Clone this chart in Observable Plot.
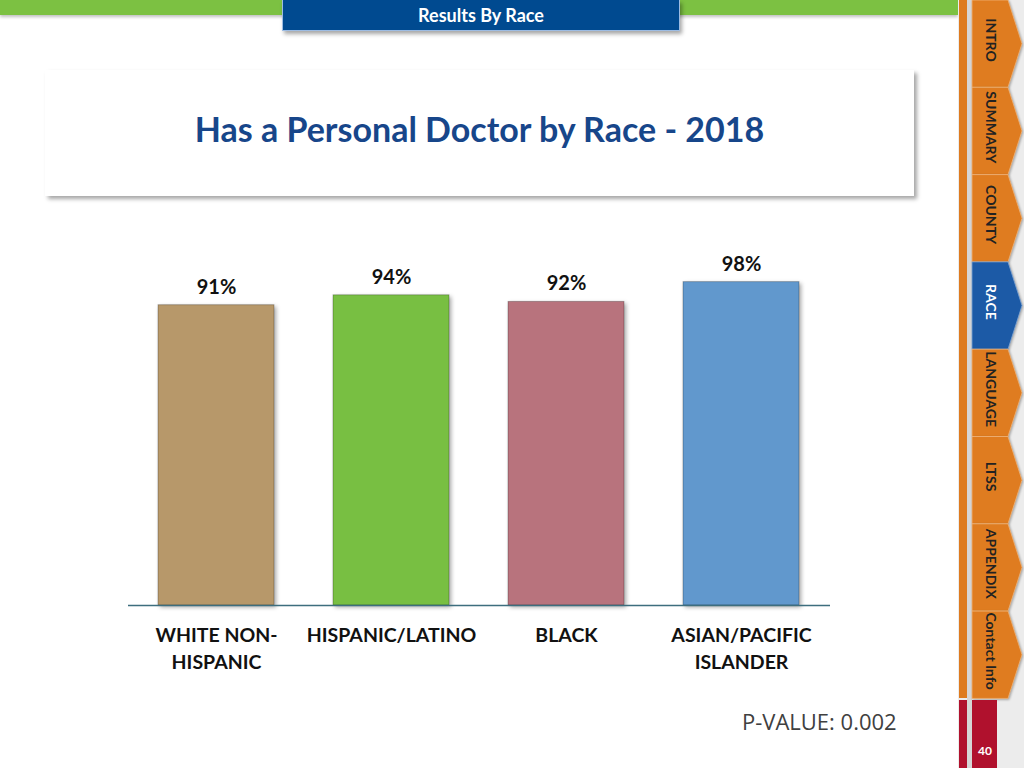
<!DOCTYPE html>
<html>
<head>
<meta charset="utf-8">
<script src="https://cdn.jsdelivr.net/npm/d3@7"></script>
<script src="https://cdn.jsdelivr.net/npm/@observablehq/plot@0.6"></script>
<style>
  html, body { margin: 0; padding: 0; background: #fff; width: 1024px; height: 768px; overflow: hidden; font-family: Lato, "Open Sans", sans-serif; }
  .abs { position: absolute; }
  #greenbar { left: 0; top: 0; width: 958px; height: 15px; background: #7CC142; box-shadow: 0 2px 3px rgba(0,0,0,0.25); }
  #bluetab { left: 282px; top: 0; width: 396px; height: 30px; background: #004A90; border: 1px solid #9DBCE3; border-top: none; box-shadow: 2px 3px 4px rgba(0,0,0,0.35); color: #fff; font-weight: bold; font-size: 18px; text-align: center; line-height: 31px; }
  #titlebox { left: 45px; top: 70px; width: 869px; height: 126px; background: #fff; box-shadow: 3px 3px 4px rgba(0,0,0,0.35); }
  #title { left: 45px; top: 108px; width: 869px; text-align: center; font-size: 34px; font-weight: bold; color: #17468A; }
  #chart { left: 128px; top: 240px; }
  #chart rect { filter: drop-shadow(2px 2px 2px rgba(0,0,0,0.35)); }
  #pval { left: 742px; top: 706px; font-size: 22px; color: #404040; font-family: "Open Sans", Lato, sans-serif; }
  #nav { left: 950px; top: 0; }
</style>
</head>
<body>
<div id="greenbar" class="abs"></div>
<div id="bluetab" class="abs">Results By Race</div>
<div id="titlebox" class="abs"></div>
<div id="title" class="abs">Has a Personal Doctor by Race - 2018</div>
<div id="chart" class="abs"></div>
<div id="pval" class="abs">P-VALUE: 0.002</div>
<svg id="nav" class="abs" width="74" height="768"></svg>
<script>
// ---- data ----
const categories = ["WHITE NON-\nHISPANIC", "HISPANIC/LATINO", "BLACK", "ASIAN/PACIFIC\nISLANDER"];
const values = [91, 94, 92, 98];
const valueLabels = ["91%", "94%", "92%", "98%"];
const barColors = ["#B7986A", "#78BF42", "#B8737D", "#6198CD"];
const navTabs = ["INTRO", "SUMMARY", "COUNTY", "RACE", "LANGUAGE", "LTSS", "APPENDIX", "Contact Info"];
const activeTab = "RACE";
const pageNumber = "40";

const data = categories.map((c, i) => ({cat: c, value: values[i], label: valueLabels[i]}));

const chart = Plot.plot({
  width: 702,
  height: 445,
  marginLeft: 0,
  marginRight: 0,
  marginTop: 35,
  marginBottom: 80,
  style: {fontFamily: "Lato, 'Open Sans', sans-serif", background: "transparent", overflow: "visible"},
  x: {domain: categories, paddingInner: 0.335, paddingOuter: 0.165, label: null},
  y: {domain: [0, 100], axis: null},
  color: {domain: categories, range: barColors},
  marks: [
    Plot.barY(data, {x: "cat", y: "value", fill: "cat", stroke: "#000", strokeOpacity: 0.25, strokeWidth: 1}),
    Plot.ruleY([0], {stroke: "#3D6E7E", strokeWidth: 1.5}),
    Plot.text(data, {x: "cat", y: "value", text: "label", dy: -18, fontSize: 20, fontWeight: "bold", fill: "#111"}),
    Plot.axisX({tickSize: 0, tickPadding: 17, fontSize: 19.5, fontWeight: "bold", lineHeight: 1.4, fill: "#111", label: null})
  ]
});
document.getElementById("chart").appendChild(chart);

// ---- side navigation ----
const nav = d3.select("#nav");
const ox = 950;
nav.append("rect").attr("x", 958 - ox).attr("y", 0).attr("width", 66).attr("height", 768).attr("fill", "#ECECEC");
nav.append("rect").attr("x", 959 - ox).attr("y", 0).attr("width", 8).attr("height", 698).attr("fill", "#DE7B1F");
nav.append("rect").attr("x", 959 - ox).attr("y", 700).attr("width", 8).attr("height", 68).attr("fill", "#B0112D");
nav.append("rect").attr("x", 967 - ox).attr("y", 0).attr("width", 5).attr("height", 768).attr("fill", "#D6D6D6");
const tabH = 87.3;
navTabs.forEach((t, i) => {
  const y0 = i * tabH, y1 = y0 + tabH;
  const active = t === activeTab;
  const pts = [[972, y0], [1008, y0], [1022, y0 + tabH * 0.5], [1008, y1], [972, y1]].map(p => [p[0] - ox, p[1]]);
  nav.append("polygon")
    .attr("points", pts.map(p => p.join(",")).join(" "))
    .attr("fill", active ? "#1C5AA6" : "#DF7C20")
    .attr("stroke", active ? "#7FA6D6" : "#F0B478")
    .attr("stroke-width", 0.8)
    .style("filter", "drop-shadow(1px 1px 1px rgba(0,0,0,0.3))");
  nav.append("text")
    .attr("transform", `translate(${990 - ox},${y0 + 40}) rotate(90)`)
    .attr("text-anchor", "middle")
    .attr("dominant-baseline", "middle")
    .attr("font-family", "Lato, 'Open Sans', sans-serif")
    .attr("font-weight", "bold")
    .attr("font-size", 14)
    .attr("fill", active ? "#fff" : "#222")
    .text(t);
});
nav.append("rect").attr("x", 972 - ox).attr("y", 700).attr("width", 25).attr("height", 68).attr("fill", "#B0112D");
nav.append("text").attr("x", 985 - ox).attr("y", 755).attr("text-anchor", "middle")
  .attr("font-family", "Lato, sans-serif").attr("font-weight", "bold").attr("font-size", 12).attr("fill", "#fff").text(pageNumber);
</script>
</body>
</html>
